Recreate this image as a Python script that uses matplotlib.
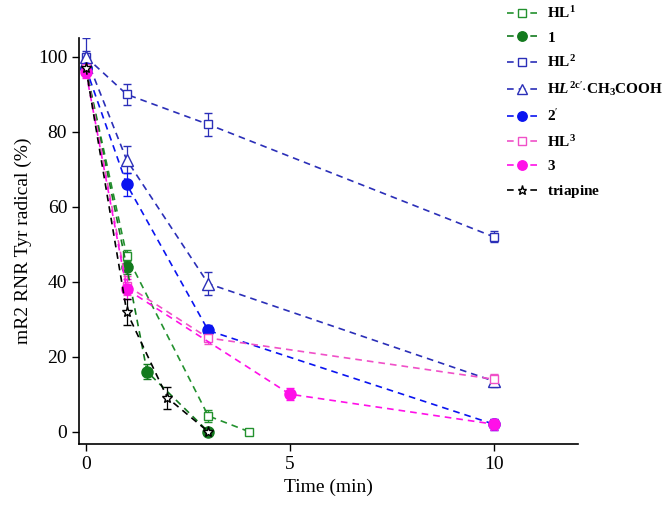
import matplotlib.pyplot as plt

plt.rcParams['font.family'] = ['Liberation Serif', 'DejaVu Serif']
plt.rcParams['mathtext.fontset'] = 'custom'
plt.rcParams['mathtext.rm'] = 'Liberation Serif'
plt.rcParams['mathtext.it'] = 'Liberation Serif:italic:bold'
plt.rcParams['mathtext.bf'] = 'Liberation Serif:bold'

# Data
t_hl1 = [0, 1, 3, 4]
y_hl1 = [97, 47, 4.2, 0]
e_hl1 = [1.5, 1.5, 1.5, 0.5]

t_c1 = [0, 1, 1.5, 3]
y_c1 = [97, 44, 16, 0]
e_c1 = [1.5, 2, 2, 0.5]

t_hl2 = [0, 1, 3, 10]
y_hl2 = [100, 90, 82, 52]
e_hl2 = [1.5, 2.8, 3, 1.5]

t_hl2c = [0, 1, 3, 10]
y_hl2c = [100, 72.5, 39.5, 13.5]
e_hl2c = [5, 3.6, 3, 1.5]

t_c2 = [0, 1, 3, 10]
y_c2 = [97, 66, 27, 2]
e_c2 = [1.5, 3, 1.5, 1.5]

t_hl3 = [0, 1, 3, 10]
y_hl3 = [97, 39, 25, 14]
e_hl3 = [1.5, 2.5, 1.5, 1.5]

t_c3 = [0, 1, 5, 10]
y_c3 = [96, 38, 10, 2]
e_c3 = [1.5, 2.7, 1.6, 1.5]

t_tri = [0, 1, 2, 3]
y_tri = [97, 32, 9, 0]
e_tri = [1.5, 3.5, 3, 0.5]

labels = [r'$\mathbf{HL^1}$', r'$\mathbf{1}$', r'$\mathbf{HL^2}$',
          r'$\mathbf{H}\mathit{L}^{\mathbf{2c}\prime}\mathbf{\cdot CH_3COOH}$',
          r"$\mathbf{2}^{\prime}$", r'$\mathbf{HL^3}$', r'$\mathbf{3}$', r'$\mathbf{triapine}$']

green1 = '#23912e'
green2 = '#137a1e'
blue1 = '#2b2fb8'
blue2 = '#0a14f0'
pink1 = '#f050c8'
mag = '#ff10e8'

series = [
    (t_hl1, y_hl1, e_hl1, green1, 's', 'white', 6),
    (t_c1, y_c1, e_c1, green2, 'o', green2, 8),
    (t_hl2, y_hl2, e_hl2, blue1, 's', 'white', 6),
    (t_hl2c, y_hl2c, e_hl2c, blue1, '^', 'white', 8),
    (t_c2, y_c2, e_c2, blue2, 'o', blue2, 8),
    (t_hl3, y_hl3, e_hl3, pink1, 's', 'white', 6),
    (t_c3, y_c3, e_c3, mag, 'o', mag, 8),
    (t_tri, y_tri, e_tri, 'black', '*', 'white', 8),
]

fig = plt.figure(figsize=(6.66, 5.16), dpi=100)
ax = fig.add_axes([0.1186, 0.1395, 0.7494, 0.7865])

handles = []
for (t, y, e, c, m, fc, ms), lab in zip(series, labels):
    h = ax.errorbar(t, y, yerr=e, color=c, ls='--', lw=1.2, dashes=(4, 3),
                    marker=m, mfc=fc, mec=c, ms=ms, mew=1.0,
                    ecolor=c, elinewidth=0.9, capsize=3, capthick=0.9,
                    label=lab)
    handles.append(h.lines[0])

ax.set_xlim(-0.17, 12.07)
ax.set_ylim(-3.3, 105)
ax.set_xticks([0, 5, 10])
ax.set_yticks([0, 20, 40, 60, 80, 100])
ax.spines['top'].set_visible(False)
ax.spines['right'].set_visible(False)
ax.spines['left'].set_linewidth(1.2)
ax.spines['bottom'].set_linewidth(1.2)
ax.tick_params(direction='out', length=5, width=1, labelsize=14)
ax.set_xlabel('Time (min)', fontsize=14)
ax.set_ylabel('mR2 RNR Tyr radical (%)', fontsize=14)

fig.legend(handles, labels, loc='upper left', bbox_to_anchor=(0.752, 1.002),
           frameon=False, fontsize=11, handlelength=2.0, labelspacing=0.64,
           handletextpad=0.6, borderaxespad=0, markerscale=0.85)

fig.savefig('out.png', dpi=100)
